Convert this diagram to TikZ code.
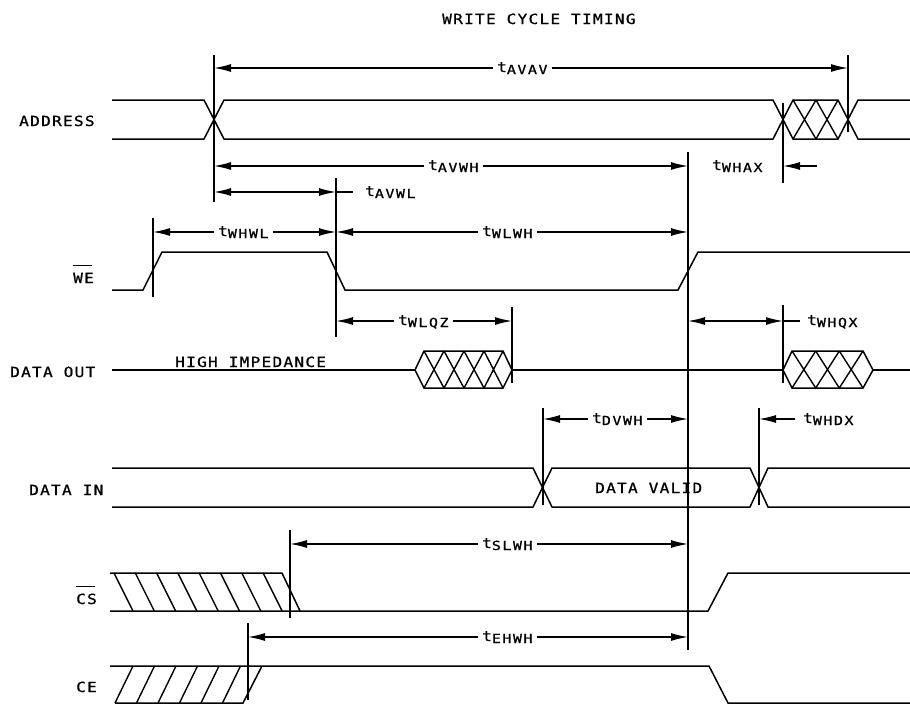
\documentclass[tikz,border=0pt]{standalone}
\usepackage{fontspec}
\newfontfamily\pf{DejaVu Sans Mono}[FakeStretch=1.15, FakeBold=0.8, LetterSpace=9]
\newfontfamily\pfs{DejaVu Sans Mono}[FakeStretch=1.2, FakeBold=0.8, LetterSpace=12]
\usetikzlibrary{arrows.meta}
\newcommand\tsub[1]{{\pf\fontsize{14}{14}\selectfont t}\raisebox{-2pt}{\pfs\fontsize{12.5}{12.5}\selectfont #1}}
\tikzset{
  sig/.style={line width=1.5pt, line join=miter},
  refl/.style={line width=1.5pt},
  hatch/.style={line width=1.4pt},
  dimboth/.style={line width=1.4pt, {Latex[length=17pt,width=8pt]}-{Latex[length=17pt,width=8pt]}},
  dimone/.style={line width=1.4pt, -{Latex[length=17pt,width=8pt]}},
  lbl/.style={font=\pf\fontsize{14}{14}\selectfont, inner sep=0pt, anchor=base west},
  tlab/.style={inner xsep=4pt, inner ysep=1pt, fill=white, anchor=base west},
  tfree/.style={inner sep=0pt, anchor=base west},
  bar/.style={line width=1.1pt}
}
\begin{document}
\begin{tikzpicture}[x=1pt,y=-1pt]
\useasboundingbox (0,0) rectangle (910,704);
\fill[white] (0,0) rectangle (910,704);

% title
\node[lbl] (title) at (442,24) {WRITE CYCLE TIMING};

% row labels
\node[lbl] (laddr) at (19,126) {ADDRESS};
\node[lbl] (lwe) at (73,283) {WE};
\draw[bar] ([yshift=7pt]lwe.north west) -- ([yshift=7pt,xshift=-2pt]lwe.north east);
\node[lbl] (ldout) at (10,377) {DATA OUT};
\node[lbl] (ldin) at (29,495) {DATA IN};
\node[lbl] (lcs) at (76,604) {CS};
\draw[bar] ([yshift=7pt]lcs.north west) -- ([yshift=7pt,xshift=-2pt]lcs.north east);
\node[lbl] (lce) at (76,692) {CE};
\node[lbl] (hiz) at (175,367) {HIGH IMPEDANCE};
\node[lbl] (dvalid) at (595,493) {DATA VALID};

% ADDRESS
\draw[sig] (112,100) -- (204,100) -- (224,139) -- (773,139) -- (793,100) -- (838,100) -- (858,139) -- (910,139);
\draw[sig] (112,139) -- (204,139) -- (224,100) -- (773,100) -- (793,139) -- (838,139) -- (858,100) -- (910,100);
\draw[hatch] (793,100) -- (816,139) (793,139) -- (816,100) (816,100) -- (838,139) (816,139) -- (838,100);

% WE
\draw[sig] (112,290) -- (143,290) -- (162,252) -- (327,252) -- (345,290) -- (678,290) -- (698,252) -- (910,252);

% DATA OUT
\draw[sig] (112,370) -- (415,370);
\draw[sig] (415,370) -- (424,351) -- (503,351) -- (512,370) -- (503,388) -- (424,388) -- cycle;
\foreach \a/\b in {424/444,444/464,464/484,484/503}
  \draw[hatch] (\a,351) -- (\b,388) (\a,388) -- (\b,351);
\draw[sig] (512,370) -- (783,370);
\draw[sig] (783,370) -- (792,351) -- (863,351) -- (873,370) -- (863,388) -- (792,388) -- cycle;
\foreach \a/\b in {792/815.7,815.7/839.3,839.3/863}
  \draw[hatch] (\a,351) -- (\b,388) (\a,388) -- (\b,351);
\draw[sig] (873,370) -- (910,370);

% DATA IN
\draw[sig] (112,468) -- (533,468) -- (552,507) -- (750,507) -- (768,468) -- (910,468);
\draw[sig] (112,507) -- (533,507) -- (552,468) -- (750,468) -- (768,507) -- (910,507);

% CS
\draw[sig] (110,573) -- (282,573) -- (300,611);
\draw[sig] (110,611) -- (708,611) -- (728,573) -- (910,573);
\foreach \i in {0,...,7}
  \draw[hatch] (114+21.3*\i,573) -- (133+21.3*\i,611);

% CE
\draw[sig] (110,666) -- (709,666) -- (728,703) -- (910,703);
\draw[sig] (115,703) -- (243,703) -- (262,666);
\foreach \i in {0,...,5}
  \draw[hatch] (115+21.5*\i,703) -- (133+21.5*\i,666);

% reference lines
\draw[refl] (214,55) -- (214,202);
\draw[refl] (848,55) -- (848,132);
\draw[refl] (688,152) -- (688,650);
\draw[refl] (783,103) -- (783,183);
\draw[refl] (336,178) -- (336,337);
\draw[refl] (153,218) -- (153,297);
\draw[refl] (512,307) -- (512,383);
\draw[refl] (783,305) -- (783,383);
\draw[refl] (543,408) -- (543,505);
\draw[refl] (759,408) -- (759,505);
\draw[refl] (290,530) -- (290,618);
\draw[refl] (248,623) -- (248,700);

% dimension arrows
\draw[dimboth] (214,68) -- (848,68);
\node[tlab] (tavav) at (493,72) {\tsub{AVAV}};
\draw[dimboth] (214,166) -- (688,166);
\node[tlab] (tavwh) at (424,170) {\tsub{AVWH}};
\draw[dimone] (817,166) -- (783,166);
\node[tfree] (twhax) at (712,170) {\tsub{WHAX}};
\draw[dimboth] (214,192) -- (336,192);
\draw[refl] (336,192) -- (353,192);
\node[tfree] (tavwl) at (365,196) {\tsub{AVWL}};
\draw[dimboth] (153,232) -- (336,232);
\node[tlab] (twhwl) at (214,236) {\tsub{WHWL}};
\draw[dimboth] (336,232) -- (688,232);
\node[tlab] (twlwh) at (478,236) {\tsub{WLWH}};
\draw[dimboth] (336,321) -- (512,321);
\node[tlab] (twlqz) at (394,325) {\tsub{WLQZ}};
\draw[dimboth] (688,321) -- (783,321);
\draw[refl] (783,321) -- (800,321);
\node[tfree] (twhqx) at (807,325) {\tsub{WHQX}};
\draw[dimboth] (543,419) -- (688,419);
\node[tlab] (tdvwh) at (588,423) {\tsub{DVWH}};
\draw[dimone] (795,419) -- (759,419);
\node[tfree] (twhdx) at (803,423) {\tsub{WHDX}};
\draw[dimboth] (290,544) -- (688,544);
\node[tlab] (tslwh) at (478,548) {\tsub{SLWH}};
\draw[dimboth] (248,637) -- (688,637);
\node[tlab] (tehwh) at (478,641) {\tsub{EHWH}};
\end{tikzpicture}
\end{document}
